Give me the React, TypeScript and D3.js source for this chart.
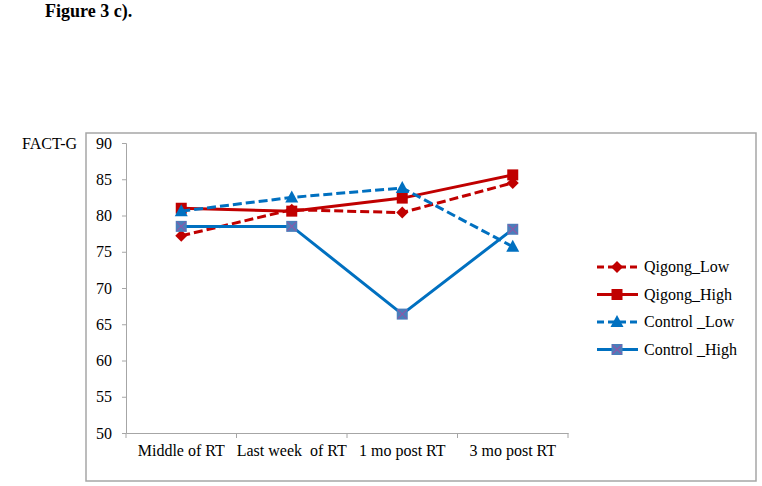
import React, { useEffect, useRef } from 'react';
import * as d3 from 'd3';

const categories = ['Middle of RT', 'Last week  of RT', '1 mo post RT', '3 mo post RT'];
const yTicks = [50, 55, 60, 65, 70, 75, 80, 85, 90];

const qigongLow = [77.2, 80.8, 80.4, 84.5];
const qigongHigh = [81.0, 80.6, 82.4, 85.6];
const controlLow = [80.6, 82.5, 83.8, 75.7];
const controlHigh = [78.5, 78.5, 66.4, 78.1];

const seriesNames = ['Qigong_Low', 'Qigong_High', 'Control _Low', 'Control _High'];

const App = () => {
  const svgRef = useRef<SVGSVGElement>(null);

  useEffect(() => {
    const svg = d3.select(svgRef.current);
    svg.selectAll('*').remove();
    const font = 'Liberation Serif, Times New Roman, serif';

    const left = 126, right = 568, top = 143, bottom = 433;

    const series = [
      { name: seriesNames[0], values: qigongLow, color: '#C00000', dash: '9,4', marker: 'diamond' },
      { name: seriesNames[1], values: qigongHigh, color: '#C00000', dash: null, marker: 'square' },
      { name: seriesNames[2], values: controlLow, color: '#0070C0', dash: '9,4', marker: 'triangle' },
      { name: seriesNames[3], values: controlHigh, color: '#0070C0', dash: null, marker: 'xsquare' },
    ];

    const x = d3.scaleBand().domain(categories).range([left, right]);
    const y = d3.scaleLinear().domain([50, 90]).range([bottom, top]);

    const txt = (sel: any, size = 16) =>
      sel.attr('font-family', font).attr('font-size', size).style('font-family', font).style('font-size', `${size}px`);

    txt(svg.append('text')
      .attr('x', 45).attr('y', 17)
      .text('Figure 3 c).'), 18)
      .style('font-weight', 'bold');

    // chart border
    svg.append('rect')
      .attr('x', 86).attr('y', 133).attr('width', 670).attr('height', 348)
      .attr('fill', 'none').attr('stroke', '#a6a6a6').attr('stroke-width', 1.5);

    txt(svg.append('text')
      .attr('x', 22).attr('y', 149)
      .text('FACT-G'));

    // y axis
    const yAxis = svg.append('g').attr('transform', `translate(${left},0)`)
      .call(d3.axisLeft(y).tickValues(yTicks).tickSize(4).tickPadding(10));
    yAxis.select('.domain').attr('stroke', '#a6a6a6');
    yAxis.selectAll('line').attr('stroke', '#a6a6a6');
    txt(yAxis.selectAll('text')).attr('fill', '#000');

    // x axis
    const xAxis = svg.append('g').attr('transform', `translate(0,${bottom})`)
      .call(d3.axisBottom(x).tickSize(0).tickPadding(12));
    xAxis.select('.domain').attr('stroke', '#a6a6a6');
    txt(xAxis.selectAll('text')).attr('fill', '#000').style('white-space', 'pre');
    const bounds = [...categories.map(c => x(c) as number), right];
    svg.append('g').selectAll('line').data(bounds).join('line')
      .attr('x1', d => d).attr('x2', d => d)
      .attr('y1', bottom).attr('y2', bottom + 5)
      .attr('stroke', '#a6a6a6');

    const cx = (i: number) => (x(categories[i]) as number) + x.bandwidth() / 2;

    const drawMarker = (g: any, px: number, py: number, kind: string, color: string) => {
      if (kind === 'diamond') {
        g.append('path').attr('d', `M${px},${py - 6}L${px + 6},${py}L${px},${py + 6}L${px - 6},${py}Z`).attr('fill', color);
      } else if (kind === 'square') {
        g.append('rect').attr('x', px - 5.5).attr('y', py - 5.5).attr('width', 11).attr('height', 11).attr('fill', color);
      } else if (kind === 'triangle') {
        g.append('path').attr('d', `M${px},${py - 7}L${px + 6.5},${py + 5}L${px - 6.5},${py + 5}Z`).attr('fill', color);
      } else {
        g.append('rect').attr('x', px - 5.5).attr('y', py - 5.5).attr('width', 11).attr('height', 11).attr('fill', '#4a7ebb');
        g.append('path').attr('d', `M${px - 4.5},${py - 4.5}L${px + 4.5},${py + 4.5}M${px + 4.5},${py - 4.5}L${px - 4.5},${py + 4.5}`)
          .attr('stroke', '#8a5aa8').attr('stroke-width', 1.2);
      }
    };

    const line = d3.line<number>().x((_, i) => cx(i)).y(d => y(d));

    series.forEach(s => {
      const g = svg.append('g');
      g.append('path').datum(s.values).attr('d', line)
        .attr('fill', 'none').attr('stroke', s.color).attr('stroke-width', 3)
        .attr('stroke-dasharray', s.dash);
      s.values.forEach((v, i) => drawMarker(g, cx(i), y(v), s.marker, s.color));
    });

    // legend
    const leg = svg.append('g');
    series.forEach((s, i) => {
      const ly = 267 + i * 27.5;
      leg.append('line').attr('x1', 597).attr('x2', 638).attr('y1', ly).attr('y2', ly)
        .attr('stroke', s.color).attr('stroke-width', 3).attr('stroke-dasharray', s.dash ? '7,4' : null);
      drawMarker(leg, 617, ly, s.marker, s.color);
      txt(leg.append('text').attr('x', 644).attr('y', ly + 5).text(s.name)).style('white-space', 'pre');
    });
  }, []);

  return <svg ref={svgRef} width={762} height={486} style={{ position: 'absolute', left: 0, top: 0 }}></svg>;
};

export default App;
